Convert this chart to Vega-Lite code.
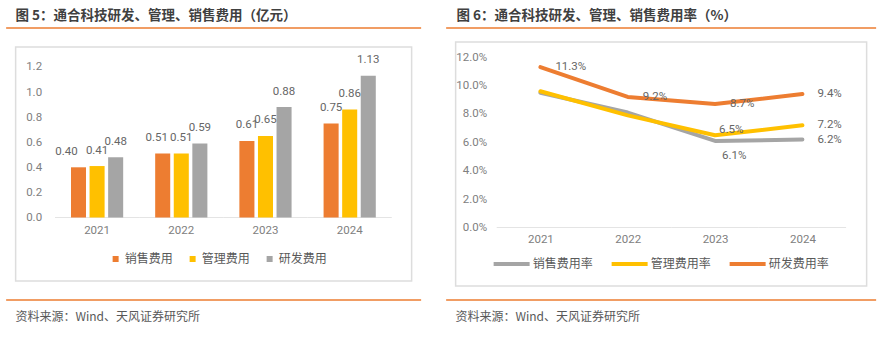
{
  "$schema": "https://vega.github.io/schema/vega-lite/v6.json",
  "background": "white",
  "padding": {"left": 5, "top": 8, "right": 0, "bottom": 0},
  "config": {
    "font": "Noto Sans CJK SC",
    "view": {"stroke": null},
    "axis": {"labelFont": "Roboto", "labelFontSize": 11.5, "labelColor": "#808080", "domain": false, "ticks": false, "grid": false, "title": null},
    "legend": {"labelFont": "Noto Sans CJK SC", "labelFontSize": 12, "labelColor": "#595959"}
  },
  "datasets": {
    "bars": [
      {"year": "2021", "series": "销售费用", "value": 0.40},
      {"year": "2022", "series": "销售费用", "value": 0.51},
      {"year": "2023", "series": "销售费用", "value": 0.61},
      {"year": "2024", "series": "销售费用", "value": 0.75},
      {"year": "2021", "series": "管理费用", "value": 0.41},
      {"year": "2022", "series": "管理费用", "value": 0.51},
      {"year": "2023", "series": "管理费用", "value": 0.65},
      {"year": "2024", "series": "管理费用", "value": 0.86},
      {"year": "2021", "series": "研发费用", "value": 0.48},
      {"year": "2022", "series": "研发费用", "value": 0.59},
      {"year": "2023", "series": "研发费用", "value": 0.88},
      {"year": "2024", "series": "研发费用", "value": 1.13}
    ],
    "lines": [
      {"year": "2021", "series": "销售费用率", "value": 0.095},
      {"year": "2022", "series": "销售费用率", "value": 0.081},
      {"year": "2023", "series": "销售费用率", "value": 0.061},
      {"year": "2024", "series": "销售费用率", "value": 0.062},
      {"year": "2021", "series": "管理费用率", "value": 0.096},
      {"year": "2022", "series": "管理费用率", "value": 0.079},
      {"year": "2023", "series": "管理费用率", "value": 0.065},
      {"year": "2024", "series": "管理费用率", "value": 0.072},
      {"year": "2021", "series": "研发费用率", "value": 0.113},
      {"year": "2022", "series": "研发费用率", "value": 0.092},
      {"year": "2023", "series": "研发费用率", "value": 0.087},
      {"year": "2024", "series": "研发费用率", "value": 0.094}
    ],
    "one": [{"k": 0}]
  },
  "spacing": 23,
  "resolve": {"scale": {"color": "independent", "x": "independent", "y": "independent", "xOffset": "independent"}, "legend": {"color": "independent"}},
  "hconcat": [
    {
      "spacing": 17,
      "center": true,
      "resolve": {"scale": {"color": "independent", "x": "independent", "y": "independent"}, "legend": {"color": "independent"}},
      "vconcat": [
        {
          "width": 415,
          "height": 1,
          "data": {"name": "one"},
          "title": {"text": "图 5：通合科技研发、管理、销售费用（亿元）", "anchor": "start", "dx": 10, "offset": -9, "baseline": "bottom", "fontSize": 13.5, "fontWeight": "bold", "color": "#404040", "font": "Noto Sans CJK SC"},
          "mark": {"type": "rule", "color": "#ED7D31", "strokeWidth": 1.5},
          "encoding": {"y": {"datum": 0, "axis": null}}
        },
        {
          "width": 396,
          "height": 234,
          "view": {"stroke": "#DDDDDD", "strokeWidth": 1.5},
          "data": {"name": "bars"},
          "encoding": {
            "x": {"field": "year", "type": "nominal", "scale": {"type": "band", "paddingInner": 0.38, "paddingOuter": 0.5415, "align": 0.607}, "axis": {"orient": "bottom", "offset": -63.5, "labelPadding": 7, "labelAngle": 0}},
            "y": {"field": "value", "type": "quantitative", "stack": null, "scale": {"domain": [-0.506, 1.3586], "nice": false, "zero": false}, "axis": {"values": [0, 0.2, 0.4, 0.6, 0.8, 1.0, 1.2], "format": ".1f", "offset": -29, "labelPadding": 3}},
            "xOffset": {"field": "series", "type": "nominal", "sort": ["销售费用", "管理费用", "研发费用"], "scale": {"paddingInner": 0.19, "paddingOuter": 0}}
          },
          "layer": [
            {
              "transform": [{"filter": "datum.series == '销售费用'"}],
              "mark": {"type": "tick", "orient": "horizontal", "color": "#D9D9D9", "thickness": 1, "size": 84.2},
              "encoding": {"y": {"datum": 0}, "xOffset": null}
            },
            {
              "mark": {"type": "bar"},
              "encoding": {
                "y2": {"datum": 0},
                "color": {"field": "series", "type": "nominal", "scale": {"domain": ["销售费用", "管理费用", "研发费用"], "range": ["#ED7D31", "#FFC000", "#A5A5A5"]}, "legend": {"orient": "none", "legendX": 94, "legendY": 206, "direction": "horizontal", "title": null, "symbolType": "square", "symbolSize": 36, "labelOffset": 3, "columnPadding": 13, "padding": 0}}
              }
            },
            {
              "transform": [{"filter": "!(datum.series == '销售费用' && (datum.year == '2021' || datum.year == '2022'))"}],
              "mark": {"type": "text", "baseline": "middle", "dy": -15.5, "fontSize": 11.5, "color": "#666666", "font": "Roboto"},
              "encoding": {"text": {"field": "value", "type": "quantitative", "format": ".2f"}}
            },
            {
              "transform": [{"filter": "datum.series == '销售费用' && datum.year == '2021'"}],
              "mark": {"type": "text", "baseline": "middle", "dy": -15.5, "dx": -12, "fontSize": 11.5, "color": "#666666", "font": "Roboto"},
              "encoding": {"text": {"field": "value", "type": "quantitative", "format": ".2f"}}
            },
            {
              "transform": [{"filter": "datum.series == '销售费用' && datum.year == '2022'"}],
              "mark": {"type": "text", "baseline": "middle", "dy": -15.5, "dx": -6, "fontSize": 11.5, "color": "#666666", "font": "Roboto"},
              "encoding": {"text": {"field": "value", "type": "quantitative", "format": ".2f"}}
            }
          ]
        },
        {
          "width": 415,
          "height": 1,
          "data": {"name": "one"},
          "title": {"text": "资料来源：Wind、天风证券研究所", "orient": "bottom", "anchor": "start", "dx": 10, "offset": 11, "baseline": "top", "fontSize": 12, "fontWeight": "normal", "color": "#595959", "font": "Noto Sans CJK SC"},
          "mark": {"type": "rule", "color": "#ED7D31", "strokeWidth": 1.5},
          "encoding": {"y": {"datum": 0, "axis": null}}
        }
      ]
    },
    {
      "spacing": 12,
      "center": true,
      "resolve": {"scale": {"color": "independent", "x": "independent", "y": "independent"}, "legend": {"color": "independent"}},
      "vconcat": [
        {
          "width": 430,
          "height": 1,
          "data": {"name": "one"},
          "title": {"text": "图 6：通合科技研发、管理、销售费用率（%）", "anchor": "start", "dx": 11, "offset": -9, "baseline": "bottom", "fontSize": 13.5, "fontWeight": "bold", "color": "#404040", "font": "Noto Sans CJK SC"},
          "mark": {"type": "rule", "color": "#ED7D31", "strokeWidth": 1.5},
          "encoding": {"y": {"datum": 0, "axis": null}}
        },
        {
          "width": 411,
          "height": 244,
          "view": {"stroke": "#DDDDDD", "strokeWidth": 1.5},
          "data": {"name": "lines"},
          "encoding": {
            "x": {"field": "year", "type": "nominal", "scale": {"type": "point", "padding": 0.853, "align": 0.569}, "axis": {"orient": "bottom", "offset": -58.5, "labelPadding": 6, "labelAngle": 0}},
            "y": {"field": "value", "type": "quantitative", "scale": {"domain": [-0.04123, 0.13071], "nice": false, "zero": false}, "axis": {"values": [0, 0.02, 0.04, 0.06, 0.08, 0.1, 0.12], "format": ".1%", "offset": -34, "labelPadding": 3}}
          },
          "layer": [
            {
              "transform": [{"filter": "datum.series == '销售费用率'"}],
              "mark": {"type": "tick", "orient": "horizontal", "color": "#D9D9D9", "thickness": 1, "size": 87.33},
              "encoding": {"y": {"datum": 0}}
            },
            {
              "mark": {"type": "line", "strokeWidth": 4, "strokeCap": "round", "strokeJoin": "round"},
              "encoding": {
                "color": {"field": "series", "type": "nominal", "scale": {"domain": ["销售费用率", "管理费用率", "研发费用率"], "range": ["#A5A5A5", "#FFC000", "#ED7D31"]}, "legend": {"orient": "none", "legendX": 36, "legendY": 202, "direction": "horizontal", "title": null, "symbolType": "stroke", "symbolSize": 1296, "symbolStrokeWidth": 4, "labelOffset": 1, "columnPadding": 10, "padding": 0}}
              }
            },
            {
              "transform": [{"filter": "datum.series == '研发费用率' || datum.year == '2024'"}],
              "mark": {"type": "text", "align": "left", "baseline": "middle", "dx": 15, "fontSize": 11.5, "color": "#666666", "font": "Roboto"},
              "encoding": {"text": {"field": "value", "type": "quantitative", "format": ".1%"}}
            },
            {
              "transform": [{"filter": "datum.series == '管理费用率' && datum.year == '2023'"}],
              "mark": {"type": "text", "align": "left", "baseline": "middle", "dx": 4, "dy": -5, "fontSize": 11.5, "color": "#666666", "font": "Roboto"},
              "encoding": {"text": {"field": "value", "type": "quantitative", "format": ".1%"}}
            },
            {
              "transform": [{"filter": "datum.series == '销售费用率' && datum.year == '2023'"}],
              "mark": {"type": "text", "align": "left", "baseline": "middle", "dx": 7, "dy": 15, "fontSize": 11.5, "color": "#666666", "font": "Roboto"},
              "encoding": {"text": {"field": "value", "type": "quantitative", "format": ".1%"}}
            }
          ]
        },
        {
          "width": 430,
          "height": 1,
          "data": {"name": "one"},
          "title": {"text": "资料来源：Wind、天风证券研究所", "orient": "bottom", "anchor": "start", "dx": 10, "offset": 11, "baseline": "top", "fontSize": 12, "fontWeight": "normal", "color": "#595959", "font": "Noto Sans CJK SC"},
          "mark": {"type": "rule", "color": "#ED7D31", "strokeWidth": 1.5},
          "encoding": {"y": {"datum": 0, "axis": null}}
        }
      ]
    }
  ]
}
